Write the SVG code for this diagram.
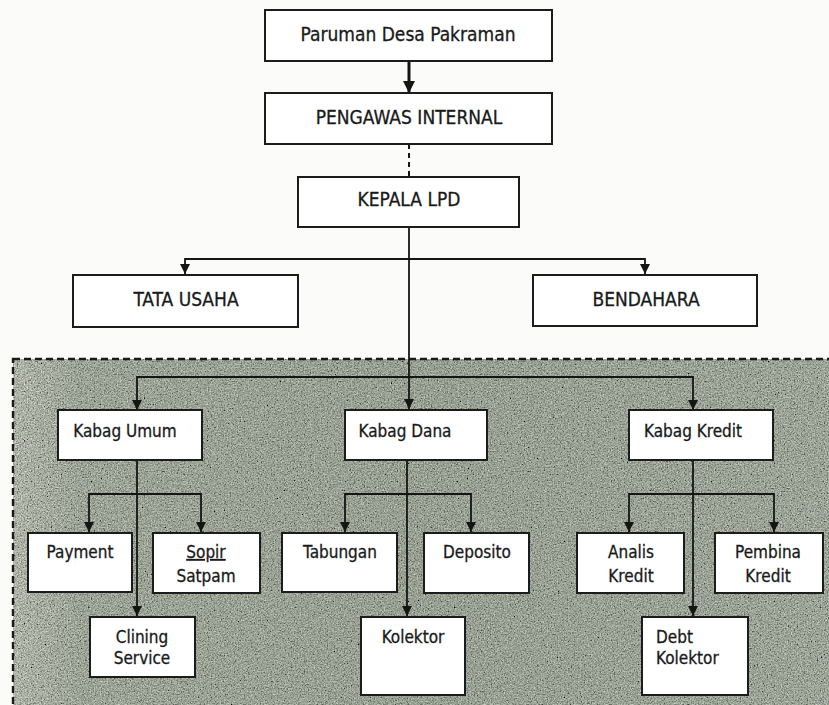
<svg xmlns="http://www.w3.org/2000/svg" width="829" height="705" viewBox="0 0 829 705">
<defs>
<style>
.box{fill:#ffffff;stroke:#1c1c1c;stroke-width:2}
.t{font-family:"DejaVu Sans Condensed","DejaVu Sans",sans-serif;font-stretch:condensed;fill:#1a1a1a;stroke:#1a1a1a;stroke-width:0.3;text-anchor:middle}
.big{font-size:19px}
.sm{font-size:17px}
.ln{fill:none;stroke:#151515;stroke-width:1.8}
.dash{fill:none;stroke:#1a1a1a;stroke-width:2.4;stroke-dasharray:7 4}
</style>
<marker id="ah" markerUnits="userSpaceOnUse" markerWidth="10" markerHeight="12" refX="10" refY="5" orient="auto-start-reverse" viewBox="0 0 10 10">
<path d="M0,0 L10,5 L0,10 z" fill="#151515"/>
</marker>
<marker id="ahb" markerUnits="userSpaceOnUse" markerWidth="12" markerHeight="12" refX="10" refY="5" orient="auto" viewBox="0 0 10 10">
<path d="M0,0 L10,5 L0,10 z" fill="#151515"/>
</marker>
<filter id="grain" x="0" y="0" width="100%" height="100%">
<feTurbulence type="fractalNoise" baseFrequency="0.7" numOctaves="3" seed="7" result="n"/>
<feColorMatrix in="n" type="matrix" values="0.33 0.33 0.33 0 0 0.33 0.33 0.33 0 0 0.33 0.33 0.33 0 0 0 0 0 0 1" result="g"/>
<feComponentTransfer in="g" result="c">
<feFuncR type="linear" slope="2.2" intercept="-0.55"/>
<feFuncG type="linear" slope="2.2" intercept="-0.55"/>
<feFuncB type="linear" slope="2.2" intercept="-0.55"/>
</feComponentTransfer>
<feBlend in="c" in2="SourceGraphic" mode="overlay" result="b"/>
<feComposite in="b" in2="SourceGraphic" operator="in"/>
</filter>
<linearGradient id="bg" x1="0" y1="0" x2="1" y2="0">
<stop offset="0" stop-color="#a9ada2"/>
<stop offset="0.08" stop-color="#979e91"/>
<stop offset="0.5" stop-color="#939a8d"/>
<stop offset="1" stop-color="#979e92"/>
</linearGradient>
</defs>
<rect x="0" y="0" width="829" height="705" fill="#fbfbfa"/>
<g id="region">
<rect x="13" y="359" width="830" height="360" fill="url(#bg)" filter="url(#grain)"/>
<rect x="13" y="359" width="830" height="360" class="dash"/>
</g>
<g id="connectors">
<line x1="409" y1="61" x2="409" y2="93" stroke="#151515" stroke-width="3" marker-end="url(#ahb)"/>
<line x1="409" y1="144" x2="409" y2="177" stroke="#151515" stroke-width="2" stroke-dasharray="5 4"/>
<line class="ln" x1="409" y1="227" x2="409" y2="409" marker-end="url(#ah)"/>
<polyline class="ln" points="185,274 185,259 645,259 645,274" marker-start="url(#ah)" marker-end="url(#ah)"/>
<polyline class="ln" points="137,410 137,377 693,377 693,410" marker-start="url(#ah)" marker-end="url(#ah)"/>
<line class="ln" x1="137" y1="460" x2="137" y2="616" marker-end="url(#ah)"/>
<polyline class="ln" points="89,532 89,494 201,494 201,532" marker-start="url(#ah)" marker-end="url(#ah)"/>
<line class="ln" x1="407" y1="460" x2="407" y2="616" marker-end="url(#ah)"/>
<polyline class="ln" points="345,532 345,494 471,494 471,532" marker-start="url(#ah)" marker-end="url(#ah)"/>
<line class="ln" x1="693" y1="460" x2="693" y2="616" marker-end="url(#ah)"/>
<polyline class="ln" points="629,532 629,494 774,494 774,532" marker-start="url(#ah)" marker-end="url(#ah)"/>
</g>
<g id="paruman"><rect class="box" x="265" y="10" width="287" height="51"/><text class="t big" x="408" y="41">Paruman Desa Pakraman</text></g>
<g id="pengawas"><rect class="box" x="265" y="93" width="287" height="51"/><text class="t big" x="409" y="124">PENGAWAS INTERNAL</text></g>
<g id="kepala"><rect class="box" x="298" y="177" width="221" height="50"/><text class="t big" x="409" y="206">KEPALA LPD</text></g>
<g id="tata-usaha"><rect class="box" x="73" y="275" width="225" height="52"/><text class="t big" x="186" y="306">TATA USAHA</text></g>
<g id="bendahara"><rect class="box" x="533" y="275" width="224" height="51"/><text class="t big" x="646" y="306">BENDAHARA</text></g>
<g id="kabag-umum"><rect class="box" x="58" y="410" width="144" height="50"/><text class="t sm" x="125" y="437">Kabag Umum</text></g>
<g id="kabag-dana"><rect class="box" x="345" y="410" width="142" height="50"/><text class="t sm" x="405" y="437">Kabag Dana</text></g>
<g id="kabag-kredit"><rect class="box" x="629" y="410" width="144" height="50"/><text class="t sm" x="693" y="437">Kabag Kredit</text></g>
<g id="payment"><rect class="box" x="28" y="533" width="104" height="59"/><text class="t sm" x="80" y="558">Payment</text></g>
<g id="sopir-satpam"><rect class="box" x="153" y="533" width="107" height="60"/><text class="t sm" x="206" y="558" text-decoration="underline">Sopir</text><text class="t sm" x="206" y="582">Satpam</text></g>
<g id="tabungan"><rect class="box" x="282" y="533" width="115" height="59"/><text class="t sm" x="340" y="558">Tabungan</text></g>
<g id="deposito"><rect class="box" x="424" y="533" width="105" height="60"/><text class="t sm" x="477" y="558">Deposito</text></g>
<g id="analis-kredit"><rect class="box" x="577" y="533" width="107" height="60"/><text class="t sm" x="631" y="558">Analis</text><text class="t sm" x="631" y="582">Kredit</text></g>
<g id="pembina-kredit"><rect class="box" x="715" y="533" width="108" height="60"/><text class="t sm" x="768" y="558">Pembina</text><text class="t sm" x="768" y="582">Kredit</text></g>
<g id="clining-service"><rect class="box" x="90" y="617" width="105" height="60"/><text class="t sm" x="142" y="643">Clining</text><text class="t sm" x="142" y="664">Service</text></g>
<g id="kolektor"><rect class="box" x="361" y="617" width="104" height="78"/><text class="t sm" x="413" y="643">Kolektor</text></g>
<g id="debt-kolektor"><rect class="box" x="642" y="617" width="106" height="78"/><text class="t sm" x="656" y="643" style="text-anchor:start">Debt</text><text class="t sm" x="656" y="664" style="text-anchor:start">Kolektor</text></g>
</svg>
